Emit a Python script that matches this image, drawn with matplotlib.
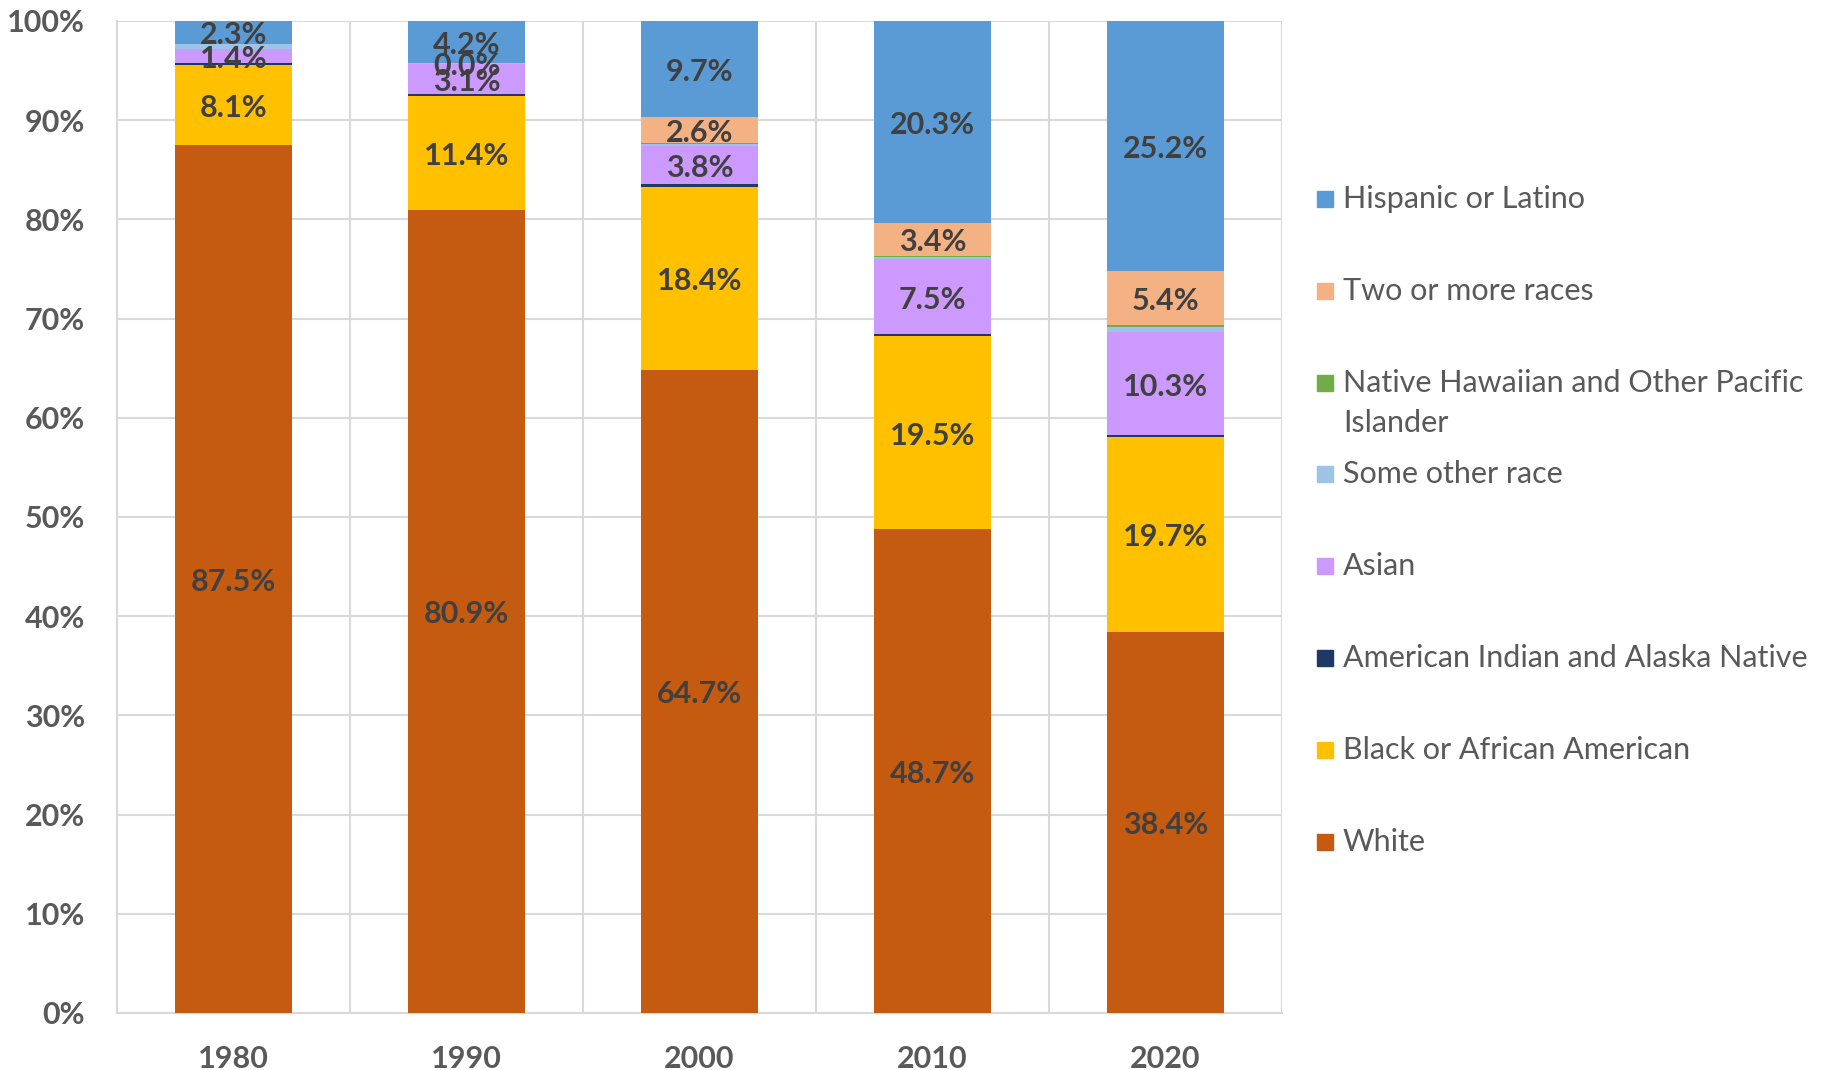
import numpy as np
import matplotlib.pyplot as plt
from matplotlib.patches import Rectangle

years = ["1980", "1990", "2000", "2010", "2020"]
white = [87.5, 80.9, 64.7, 48.7, 38.4]
black = [8.1, 11.4, 18.4, 19.5, 19.7]
aian = [0.2, 0.2, 0.3, 0.2, 0.2]
asian = [1.4, 3.1, 3.8, 7.5, 10.3]
other_race = [0.5, 0.1, 0.2, 0.2, 0.6]
nhpi = [0.0, 0.0, 0.1, 0.1, 0.2]
two_more = [np.nan, 0.0, 2.6, 3.4, 5.4]
hispanic = [2.3, 4.2, 9.7, 20.3, 25.2]

series = [
    ("White", white, "#C55A11", True),
    ("Black or African American", black, "#FFC000", True),
    ("American Indian and Alaska Native", aian, "#203864", False),
    ("Asian", asian, "#CC99FF", True),
    ("Some other race", other_race, "#9DC3E6", False),
    ("Native Hawaiian and Other Pacific\nIslander", nhpi, "#70AD47", False),
    ("Two or more races", two_more, "#F4B183", True),
    ("Hispanic or Latino", hispanic, "#5B9BD5", True),
]

plt.rcParams["font.family"] = ["Lato", "DejaVu Sans"]

fig = plt.figure(figsize=(18.31, 10.70), dpi=100)
ax = fig.add_axes([0.0639, 0.0533, 0.6363, 0.9271])

x = np.arange(len(years))
vals = np.array([np.nan_to_num(np.array(s[1], dtype=float)) for s in series])
totals = vals.sum(axis=0)
shares = vals / totals

bottom = np.zeros(len(years))
for (name, raw, color, show), share in zip(series, shares):
    ax.bar(x, share, width=0.5, bottom=bottom, color=color, zorder=3)
    if show:
        for i, v in enumerate(raw):
            if np.isnan(v):
                continue
            ax.text(x[i], bottom[i] + share[i] / 2 - 0.003, f"{v:.1f}%", ha="center",
                    va="center", fontsize=22, fontweight="bold", color="#404040",
                    zorder=4)
    bottom += share

ax.set_xlim(-0.5, len(years) - 0.5)
ax.set_ylim(0, 1)
ax.set_yticks(np.arange(0, 1.01, 0.1))
ax.set_yticklabels([f"{int(round(t * 100))}%" for t in np.arange(0, 1.01, 0.1)])
ax.set_xticks(x)
ax.set_xticklabels(years)
ax.set_xticks(np.arange(-0.5, len(years)), minor=True)
ax.grid(True, axis="y", color="#D9D9D9", linewidth=1.5, zorder=0)
ax.grid(True, axis="x", which="minor", color="#D9D9D9", linewidth=1.5, zorder=0)
for side in ["top", "right"]:
    ax.spines[side].set_visible(False)
for side in ["left", "bottom"]:
    ax.spines[side].set_color("#D9D9D9")
    ax.spines[side].set_linewidth(1.5)
ax.tick_params(which="both", length=0)
ax.tick_params(axis="y", pad=23, labelsize=22, labelcolor="#595959")
ax.tick_params(axis="x", pad=23, labelsize=22, labelcolor="#595959")
for lab in ax.get_xticklabels() + ax.get_yticklabels():
    lab.set_fontweight("bold")

# legend, drawn by hand so the wrapped entry keeps the even spacing
for i, (name, raw, color, show) in enumerate(reversed(series)):
    yc = 199 + i * 91.8
    fig.add_artist(Rectangle((1317 / 1831, 1 - (yc + 8) / 1070), 16 / 1831, 16 / 1070,
                             color=color, transform=fig.transFigure))
    lines = name.split("\n")
    for j, line in enumerate(lines):
        fig.text(1343 / 1831, 1 - (yc + j * 40) / 1070, line, ha="left",
                 va="center", fontsize=22, color="#595959")

fig.savefig("out.png", dpi=100)
